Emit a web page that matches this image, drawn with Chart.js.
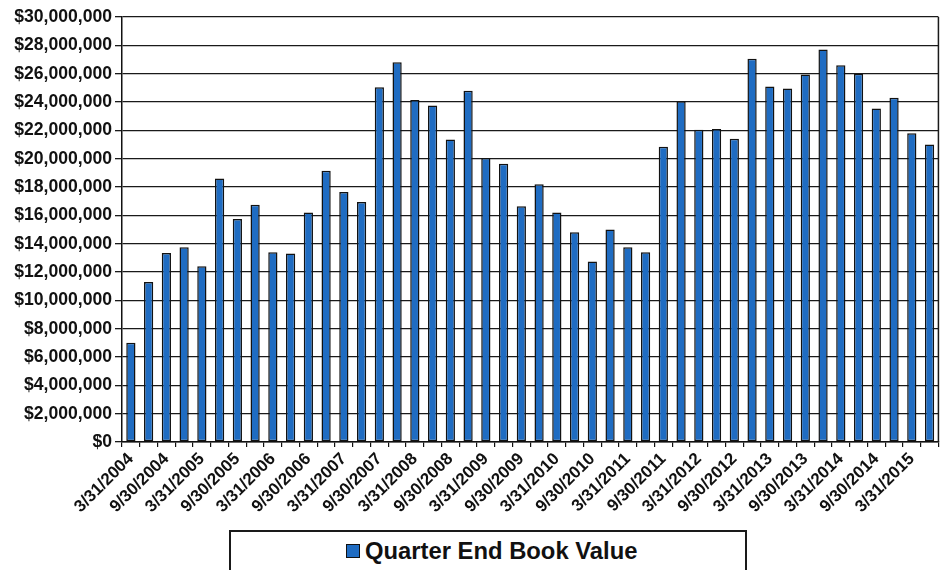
<!DOCTYPE html>
<html>
<head>
<meta charset="utf-8">
<script src="https://cdn.jsdelivr.net/npm/chart.js@4/dist/chart.umd.min.js"></script>
<style>
  html, body { margin: 0; padding: 0; background: #ffffff; }
  #wrap { position: relative; width: 946px; height: 570px; overflow: hidden; background: #ffffff; }
  #legend {
    position: absolute; left: 229px; top: 530px; width: 518px; height: 50px;
    border: 2px solid #1a1a1a; box-sizing: border-box; background: #fff;
    font-family: "Liberation Sans", Arial, sans-serif; font-weight: bold; font-size: 23.8px; color: #111;
  }
  #legend .sw { position: absolute; left: 115px; top: 12px; width: 12px; height: 12px; background: #1f6cc2; border: 1.5px solid #111; }
  #legend .tx { position: absolute; left: 134px; top: 5px; white-space: nowrap; }
</style>
</head>
<body>
<div id="wrap">
  <canvas id="c" width="946" height="570"></canvas>
  <div id="legend"><span class="sw"></span><span class="tx">Quarter End Book Value</span></div>
</div>
<script>
const quarters = [
  "3/31/2004","6/30/2004","9/30/2004","12/31/2004",
  "3/31/2005","6/30/2005","9/30/2005","12/31/2005",
  "3/31/2006","6/30/2006","9/30/2006","12/31/2006",
  "3/31/2007","6/30/2007","9/30/2007","12/31/2007",
  "3/31/2008","6/30/2008","9/30/2008","12/31/2008",
  "3/31/2009","6/30/2009","9/30/2009","12/31/2009",
  "3/31/2010","6/30/2010","9/30/2010","12/31/2010",
  "3/31/2011","6/30/2011","9/30/2011","12/31/2011",
  "3/31/2012","6/30/2012","9/30/2012","12/31/2012",
  "3/31/2013","6/30/2013","9/30/2013","12/31/2013",
  "3/31/2014","6/30/2014","9/30/2014","12/31/2014",
  "3/31/2015","6/30/2015"
];
const bookValue = [
  7000000, 11300000, 13350000, 13750000,
  12400000, 18600000, 15750000, 16750000,
  13400000, 13300000, 16200000, 19150000,
  17650000, 16950000, 25050000, 26800000,
  24150000, 23750000, 21350000, 24800000,
  20050000, 19650000, 16650000, 18200000,
  16200000, 14800000, 12750000, 15000000,
  13750000, 13400000, 20850000, 24050000,
  22050000, 22100000, 21400000, 27050000,
  25100000, 24950000, 25950000, 27700000,
  26600000, 26000000, 23550000, 24300000,
  21800000, 21000000
];
const seriesName = "Quarter End Book Value";
const yMin = 0, yMax = 30000000, yStep = 2000000;

const fontFam = "'Liberation Sans', Arial, sans-serif";

new Chart(document.getElementById('c'), {
  type: 'bar',
  data: {
    labels: quarters,
    datasets: [{
      label: seriesName,
      data: bookValue,
      backgroundColor: '#1f6cc2',
      borderColor: '#121212',
      borderWidth: 1.5,
      borderSkipped: false,
      barPercentage: 0.52,
      categoryPercentage: 1.0
    }]
  },
  options: {
    responsive: false,
    animation: false,
    devicePixelRatio: 1,
    layout: { padding: { top: 17, right: 2, left: 0, bottom: 0 } },
    plugins: {
      legend: { display: false },
      title: { display: false },
      tooltip: { enabled: false }
    },
    scales: {
      x: {
        offset: true,
        grid: {
          offset: true,
          drawOnChartArea: false,
          drawTicks: true,
          tickLength: 5,
          color: '#111',
          lineWidth: 1.2
        },
        border: { display: true, color: '#111', width: 1.5 },
        ticks: {
          autoSkip: false,
          minRotation: 45,
          maxRotation: 45,
          padding: 2,
          color: '#111',
          font: { family: fontFam, size: 17, weight: 'bold' },
          callback: function(v, i) { return i % 2 === 0 ? quarters[i] : ''; }
        },
        afterFit: function(s) { s.height = 128; }
      },
      y: {
        min: yMin, max: yMax,
        grid: {
          color: '#1a1a1a',
          lineWidth: 1.3,
          drawTicks: true,
          tickLength: 7
        },
        border: { display: true, color: '#111', width: 1.5 },
        ticks: {
          stepSize: yStep,
          padding: 3,
          color: '#111',
          font: { family: fontFam, size: 17.6, weight: 'bold' },
          callback: function(v) { return '$' + Number(v).toLocaleString('en-US'); }
        },
        afterFit: function(s) { s.width = 122; }
      }
    }
  },
  plugins: [{
    id: 'rightBorder',
    afterDraw(chart) {
      const a = chart.chartArea, ctx = chart.ctx;
      ctx.save();
      ctx.strokeStyle = '#1a1a1a';
      ctx.lineWidth = 1.5;
      ctx.beginPath();
      ctx.moveTo(a.right, a.top);
      ctx.lineTo(a.right, a.bottom);
      ctx.stroke();
      ctx.restore();
    }
  }]
});
</script>
</body>
</html>
